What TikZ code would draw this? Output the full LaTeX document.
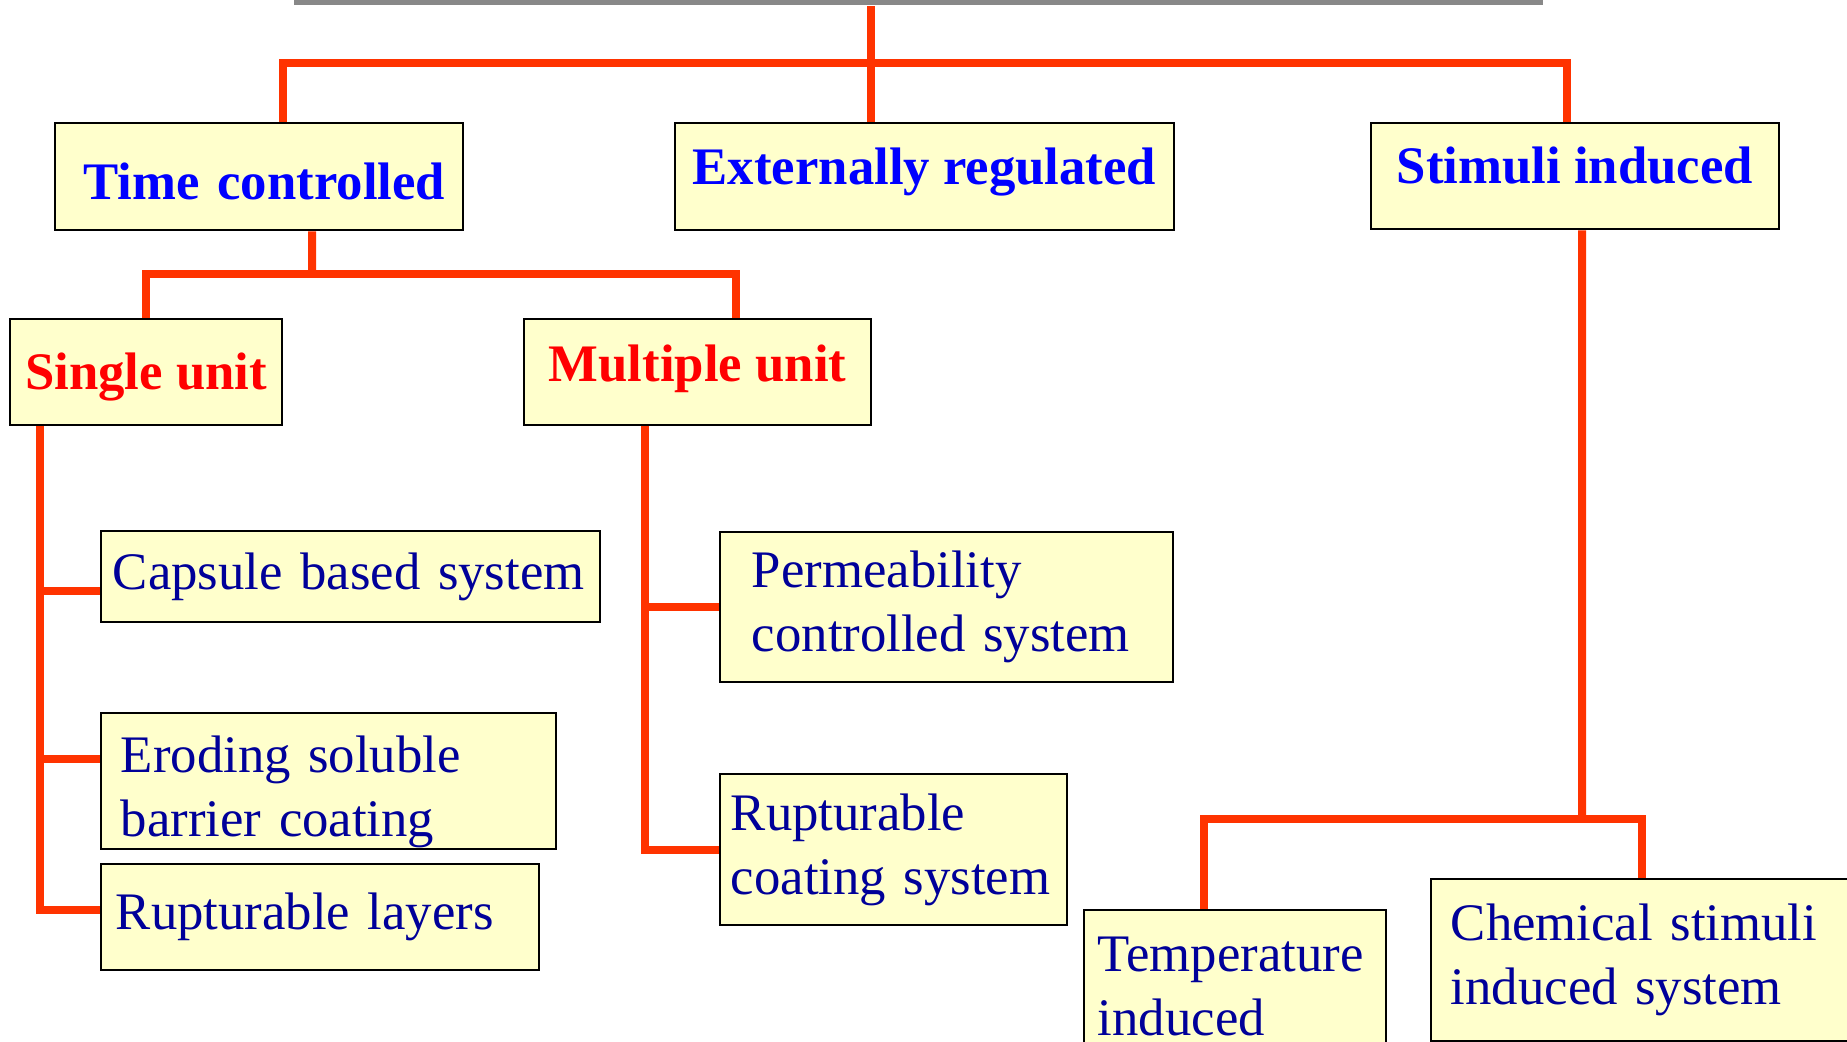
\documentclass[tikz,border=0pt]{standalone}
\usepackage{fontspec}
\setmainfont{Liberation Serif}
\definecolor{linkred}{HTML}{FF3300}
\definecolor{boxfill}{HTML}{FFFFCC}
\definecolor{headblue}{HTML}{0000FF}
\definecolor{unitred}{HTML}{FF0000}
\definecolor{leafnavy}{HTML}{000099}
\definecolor{barc}{HTML}{888888}
\tikzset{
  box/.style={draw=black, line width=0.025cm, fill=boxfill, inner ysep=0pt, font=\fontsize{15}{18.2}\selectfont},
  head/.style={box, text=headblue, font=\fontsize{15}{18.2}\selectfont\bfseries},
  unit/.style={box, text=unitred, font=\fontsize{15}{18.2}\selectfont\bfseries},
  leaf/.style={box, text=leafnavy, align=left},
  bar/.style={fill=barc, inner sep=0pt, minimum height=0.05cm},
  link/.style={draw=linkred, line width=0.08cm},
}

\begin{document}
\begin{tikzpicture}[x=0.01cm, y=-0.01cm]
  \useasboundingbox (0,0) rectangle (1847,1042);
  \clip (0,0) rectangle (1847,1042);
  \node[bar, minimum width=12.49cm] (bar) at (918.5,2.5) {};
  % first level
  \node[head, inner xsep=0.18cm, text width=3.72cm, align=right, minimum height=1.07cm, text height=0.60cm, text depth=0.15cm] (tc) at (259,176.5) {Time controlled};
  \node[head, minimum width=4.99cm, minimum height=1.07cm, text height=0.40cm, text depth=0.25cm] (ext) at (924.5,176.5) {Externally regulated};
  \node[head, minimum width=4.08cm, minimum height=1.06cm, text height=0.40cm, text depth=0.25cm] (stim) at (1575,176) {Stimuli induced};
  % second level
  \node[unit, minimum width=2.72cm, minimum height=1.06cm, text height=0.40cm, text depth=0.06cm] (su) at (146,372) {Single unit};
  \node[unit, minimum width=3.47cm, minimum height=1.06cm, text height=0.40cm, text depth=0.22cm] (mu) at (697.5,372) {Multiple unit};
  % leaves
  \node[leaf, inner xsep=0.12cm, text width=4.75cm, minimum height=0.91cm] (cap) at (350.5,576.5) {Capsule based system};
  \node[leaf, inner xsep=0.2cm, text width=4.15cm, minimum height=1.36cm] (ero) at (328.5,781) {\rule{0pt}{0.59cm}Eroding soluble\\barrier coating};
  \node[leaf, inner xsep=0.15cm, text width=4.08cm, minimum height=1.06cm] (rl) at (320,917) {Rupturable layers};
  \node[leaf, inner xsep=0.32cm, text width=3.89cm, minimum height=1.50cm] (perm) at (946.5,607) {Permeability\\controlled system};
  \node[leaf, inner xsep=0.11cm, text width=3.25cm, minimum height=1.51cm] (rc) at (893.5,849.5) {Rupturable\\coating system};
  \node[leaf, inner xsep=0.14cm, text width=2.74cm, minimum height=1.52cm] (temp) at (1235,986) {Temperature\\induced};
  \node[leaf, inner xsep=0.2cm, text width=3.99cm, minimum height=1.62cm] (chem) at (1650.5,960) {Chemical stimuli\\induced system};
  % connectors
  \coordinate (split) at (871,63);
  \coordinate (tsplit) at (312,274);
  \coordinate (ssplit) at (1582,819);
  \draw[link] ([xshift=-0.535cm]ext.north) -- ([xshift=-0.535cm]ext.north |- bar.south);
  \draw[link] ([xshift=0.24cm]tc.north) |- (split) -| ([xshift=-0.08cm]stim.north);
  \draw[link] ([xshift=0.53cm]tc.south) -- (tsplit);
  \draw[link] (su.north) |- (tsplit) -| ([xshift=0.385cm]mu.north);
  \foreach \n/\dy in {cap/-0.145, ero/0.22, rl/0.07}
    \draw[link] ([yshift=\dy cm]\n.west) -| ([xshift=-1.06cm]su.south);
  \foreach \n in {perm, rc}
    \draw[link] (\n.west) -| ([xshift=-0.525cm]mu.south);
  \draw[link] ([xshift=0.07cm]stim.south) -- (ssplit);
  \draw[link] ([xshift=-0.31cm]temp.north) |- (ssplit) -| ([xshift=-0.085cm]chem.north);
\end{tikzpicture}
\end{document}
